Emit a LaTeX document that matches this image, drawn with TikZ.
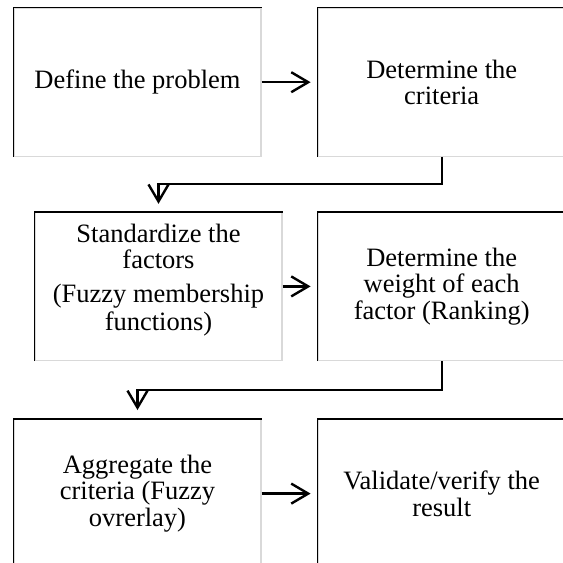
\documentclass[tikz,border=0pt]{standalone}
\usepackage{fontspec}
\setmainfont{Liberation Serif}
\usetikzlibrary{positioning, arrows.meta}
\tikzstyle{process} = [rectangle, minimum width=247pt, minimum height=148pt, inner sep=0pt, align=center, draw=black!15, line width=1.2pt, fill=white, font=\fontsize{26.5}{26.5}\selectfont]
\tikzstyle{edge} = [line width=1.6pt, black]
\tikzstyle{arrow} = [line width=2.4pt, -{Straight Barb[length=17pt, width=20pt]}]

\begin{document}
\begin{tikzpicture}
\useasboundingbox (0,0) rectangle (563pt,-563pt);

\node (b1) [process] at (137.5pt,-82.2pt) {Define the problem};
\node (b2) [process, right=56pt of b1] {Determine the\\criteria};
\node (b3) [process, below=55pt of b1, xshift=21pt] {Standardize the\\factors\\[7pt](Fuzzy membership\\[2pt]functions)\\[-8pt]\mbox{}};
\node (b4) [process, right=35pt of b3] {Determine the\\weight of each\\factor (Ranking)};
\node (b5) [process, below=58pt of b3, xshift=-21pt] {Aggregate the\\criteria (Fuzzy\\ovrerlay)};
\node (b6) [process, right=56pt of b5] {Validate/verify the\\result};

% dark left and top sides
\foreach \n in {b1,b2,b3,b4,b5,b6}
  \draw [edge] (\n.south west) |- (\n.north east);

\draw [arrow, shorten >=7pt] (b1) -- (b2);
\draw [arrow, shorten >=7pt] (b3) -- (b4);
\draw [arrow, shorten >=7pt] (b5) -- (b6);
\draw [arrow, shorten >=8pt] (b2.south) -- ++(0,-27pt) -| (b3.north);
\draw [arrow, shorten >=9pt] (b4.south) -- ++(0,-29pt) -| (b5.north);

\end{tikzpicture}
\end{document}
